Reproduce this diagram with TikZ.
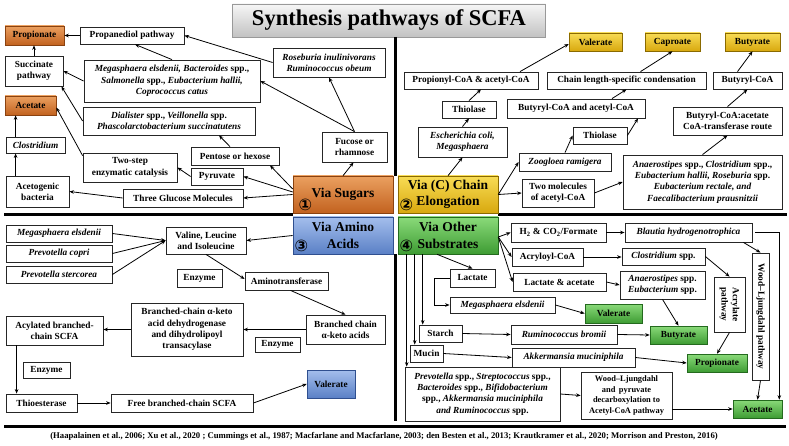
\documentclass[tikz,border=0pt]{standalone}
\usepackage{fontspec}
\setmainfont{Liberation Serif}
\newfontfamily\symf{DejaVu Sans}
\usetikzlibrary{arrows.meta,calc}
\definecolor{oTop}{HTML}{EBA060}
\definecolor{oBot}{HTML}{C2621F}
\definecolor{oLine}{HTML}{8A4210}
\definecolor{yTop}{HTML}{F8DC55}
\definecolor{yBot}{HTML}{D8A80E}
\definecolor{yLine}{HTML}{8A6A00}
\definecolor{bTop}{HTML}{A4BEEC}
\definecolor{bBot}{HTML}{5A80C6}
\definecolor{bLine}{HTML}{2F4F8F}
\definecolor{gTop}{HTML}{8ADA7A}
\definecolor{gBot}{HTML}{3E9C33}
\definecolor{gLine}{HTML}{246A1E}
\definecolor{tTop}{HTML}{F6F6F6}
\definecolor{tBot}{HTML}{C2C2C2}
\newcommand\bxfont{\bfseries\fontsize{9.3}{11.3}\selectfont}
\newcommand\viafont{\bfseries\fontsize{13.5}{16.5}\selectfont}
\newcommand\mkbx[7]{\node[#2, minimum width={(#5-#3)*1pt}, minimum height={(#6-#4)*1pt}] (#1) at ({(#3+#5)/2},{(#4+#6)/2}) {#7};}
\tikzset{
  bx/.style={draw=black!85, line width=0.8pt, fill=white, inner sep=1pt, align=center, font=\bxfont},
  outbase/.style={line width=0.6pt, inner sep=1pt, align=center, font=\bxfont},
  outO/.style={outbase, draw=oLine, top color=oTop, bottom color=oBot},
  outY/.style={outbase, draw=yLine, top color=yTop, bottom color=yBot},
  outB/.style={outbase, draw=bLine, top color=bTop, bottom color=bBot},
  outG/.style={outbase, draw=gLine, top color=gTop, bottom color=gBot},
  via/.style={line width=0.6pt, inner sep=1pt, align=center, font=\viafont, minimum width=100pt, minimum height=37pt},
  num/.style={inner sep=0pt, font=\symf\bfseries\fontsize{16}{16}\selectfont},
  arr/.style={-{Stealth[length=4.5pt,width=3.6pt]}, line width=0.8pt, black},
  divider/.style={line width=3.5pt, black},
}
\begin{document}
\begin{tikzpicture}[x=1pt,y=-1pt]
\useasboundingbox (0,0) rectangle (789,446);
\fill[white] (0,0) rectangle (789,446);
% title
\node[draw=black!40, line width=0.6pt, top color=tTop, bottom color=tBot, minimum width=313pt, minimum height=33pt, font=\bfseries\fontsize{22.5}{24}\selectfont] (title) at (389,20.5) {Synthesis pathways of SCFA};
% dividers
\draw[divider] (395.5,37) -- (395.5,176);
\draw[divider] (395.5,254) -- (395.5,421);
\draw[divider] (4,214.5) -- (293,214.5);
\draw[divider] (498,214.5) -- (787,214.5);
\draw[line width=2.5pt] (4,426.5) -- (786,426.5);
% central boxes
\node[via, draw=oLine, top color=oTop, bottom color=oBot] (sug) at (343,194.5) {Via Sugars};
\node[via, draw=yLine, top color=yTop, bottom color=yBot] (chain) at (448,194.5) {Via (C) Chain\\Elongation};
\node[via, draw=bLine, top color=bTop, bottom color=bBot] (amac) at (343,235.5) {Via Amino\\Acids};
\node[via, draw=gLine, top color=gTop, bottom color=gBot] (other) at (448,235.5) {Via Other\\Substrates};
\node[num] (n1) at (305.5,205) {①};
\node[num] (n2) at (406.5,204.5) {②};
\node[num] (n3) at (301.5,246) {③};
\node[num] (n4) at (406.5,246) {④};
% ---------- top-left: sugars
\mkbx{prop1}{outO}{5}{26}{64}{45}{Propionate}
\mkbx{pdiol}{bx}{80}{27}{184}{44}{Propanediol pathway}
\mkbx{succ}{bx}{5}{56}{63}{86}{Succinate\\pathway}
\mkbx{mega1}{bx}{84}{60}{260}{102}{\textit{Megasphaera elsdenii, Bacteroides} spp.,\\\textit{Salmonella} spp., \textit{Eubacterium hallii,}\\\textit{Coprococcus catus}}
\mkbx{rose}{bx}{273}{48}{385}{77}{\textit{Roseburia inulinivorans}\\\textit{Ruminococcus obeum}}
\mkbx{acet1}{outO}{5}{96}{56}{115}{Acetate}
\mkbx{dial}{bx}{83}{107}{255}{135}{\textit{Dialister} spp., \textit{Veillonella} spp.\\\textit{Phascolarctobacterium succinatutens}}
\mkbx{clos1}{bx}{6}{137}{65}{153}{\textit{Clostridium}}
\mkbx{fuc}{bx}{322}{132}{387}{162}{Fucose or\\rhamnose}
\mkbx{pent}{bx}{191}{147}{279}{165}{Pentose or hexose}
\mkbx{twostep}{bx}{83}{153}{177}{182}{Two-step\\enzymatic catalysis}
\mkbx{pyr}{bx}{191}{168}{243}{185}{Pyruvate}
\mkbx{acetog}{bx}{6}{176}{69}{207}{Acetogenic\\bacteria}
\mkbx{glu}{bx}{123}{189}{243}{207}{Three Glucose Molecules}
\draw[arr] (pdiol.west) -- (prop1.east);
\draw[arr] (succ.north) -- (succ.north |- prop1.south);
\draw[arr] (mega1.north) -- ([xshift=3pt]pdiol.south);
\draw[arr] (mega1.west) -- (succ.east);
\draw[arr] (rose.west) -- (pdiol.east);
\draw[arr] (fuc.north) -- (rose.south);
\draw[arr] (fuc.north) -- (mega1.east);
\draw[arr] (dial.west) -- ([xshift=-2pt]succ.south east);
\draw[arr] ([xshift=-5pt]pent.north) -- ([xshift=50pt]dial.south);
\draw[arr] ([yshift=-3pt]twostep.north west) -- ([yshift=-2pt]acet1.east);
\draw[arr] ([xshift=10pt]clos1.north west) -- ([xshift=10pt]clos1.north west |- acet1.south);
\draw[arr] ([xshift=10pt]acetog.north west) -- ([xshift=10pt]acetog.north west |- clos1.south);
\draw[arr] (pyr.west) -- (twostep.east);
\draw[arr] (glu.west) -- (acetog.east);
\draw[arr] (sug.west) -- (glu.east);
\draw[arr] ([yshift=2.5pt]sug.west) -- (pyr.east);
\draw[arr] ([yshift=5.5pt]sug.west) -- ([xshift=35pt]pent.south);
\draw[arr] (sug.north) -- ([xshift=-1pt]fuc.south);
% ---------- top-right: chain elongation
\mkbx{val2}{outY}{569}{33}{622}{51}{Valerate}
\mkbx{cap}{outY}{645}{33}{700}{51}{Caproate}
\mkbx{but2}{outY}{725}{33}{780}{51}{Butyrate}
\mkbx{propco}{bx}{404}{72}{538}{89}{Propionyl-CoA \& acetyl-CoA}
\mkbx{chainlen}{bx}{547}{72}{706}{89}{Chain length-specific condensation}
\mkbx{butco}{bx}{713}{72}{782}{89}{Butyryl-CoA}
\mkbx{thio1}{bx}{442}{101}{496}{118}{Thiolase}
\mkbx{butac}{bx}{507}{99}{645}{118}{Butyryl-CoA and acetyl-CoA}
\mkbx{ctrans}{bx}{673}{107}{782}{135}{Butyryl-CoA:acetate\\CoA-transferase route}
\mkbx{ecoli}{bx}{418}{127}{507}{157}{\textit{Escherichia coli,}\\\textit{Megasphaera}}
\mkbx{thio2}{bx}{573}{127}{627}{144}{Thiolase}
\mkbx{zoo}{bx}{519}{153}{611}{171}{\textit{Zoogloea ramigera}}
\mkbx{anae1}{bx}{623}{155}{782}{209}{\textit{Anaerostipes} spp., \textit{Clostridium} spp.,\\\textit{Eubacterium hallii, Roseburia} spp.\\\textit{Eubacterium rectale, and}\\\textit{Faecalibacterium prausnitzii}}
\mkbx{twomol}{bx}{522}{179}{594}{207}{Two molecules\\of acetyl-CoA}
\draw[arr] (chain.north) -- (ecoli.south);
\draw[arr] (ecoli.north) -- (thio1.south);
\draw[arr] (thio1.north) -- ([xshift=10pt]propco.south);
\draw[arr] ([xshift=49pt]propco.north) -- ([yshift=-2pt]val2.west);
\draw[arr] (chain.east) -- (zoo.west);
\draw[arr] (chain.east) -- (twomol.west);
\draw[arr] (zoo.north) -- (thio2.west);
\draw[arr] (thio2.east) -- ([xshift=62pt]butac.south);
\draw[arr] ([xshift=36pt]butac.north) -- (chainlen.south);
\draw[arr] ([xshift=14pt]chainlen.north) -- (cap.south);
\draw[arr] (twomol.east) -- (anae1.west);
\draw[arr] (anae1.north) -- (ctrans.south);
\draw[arr] (ctrans.north) -- (butco.south);
\draw[arr] ([xshift=-10pt]butco.north) -- (but2.south);
% ---------- bottom-left: amino acids
\mkbx{mega2}{bx}{6}{225}{112}{242}{\textit{Megasphaera elsdenii}}
\mkbx{pcop}{bx}{6}{245}{112}{262}{\textit{Prevotella copri}}
\mkbx{pster}{bx}{6}{266}{112}{283}{\textit{Prevotella stercorea}}
\mkbx{vli}{bx}{166}{227}{246}{254}{Valine, Leucine\\and Isoleucine}
\mkbx{enz1}{bx}{177}{269}{222}{287}{Enzyme}
\mkbx{amt}{bx}{245}{272}{328}{290}{Aminotransferase}
\mkbx{bcdh}{bx}{131}{303}{243}{356}{Branched-chain α-keto\\acid dehydrogenase\\and dihydrolipoyl\\transacylase}
\mkbx{bcka}{bx}{306}{315}{385}{344}{Branched chain\\α-keto acids}
\mkbx{acyl}{bx}{6}{316}{103}{345}{Acylated branched-\\chain SCFA}
\mkbx{enz2}{bx}{255}{337}{300}{352}{Enzyme}
\mkbx{enz3}{bx}{23}{362}{70}{378}{Enzyme}
\mkbx{thioe}{bx}{6}{394}{77}{412}{Thioesterase}
\mkbx{free}{bx}{111}{394}{253}{412}{Free branched-chain SCFA}
\mkbx{val3}{outB}{307}{370}{355}{398}{Valerate}
\draw[arr] (mega2.east) -- (vli.west);
\draw[arr] (pcop.east) -- (vli.west);
\draw[arr] (pster.east) -- (vli.west);
\draw[arr] (amac.west) -- (vli.east);
\draw[arr] (vli.south) -- ([yshift=2pt]amt.west);
\draw[arr] ([xshift=4pt]amt.south) -- (bcka.north);
\draw[arr] (bcka.west) -- (bcdh.east);
\draw[arr] (bcdh.west) -- (bcdh.west -| acyl.east);
\draw[arr] ([xshift=11pt]acyl.south west) -- ([xshift=11pt]acyl.south west |- thioe.north);
\draw[arr] (thioe.east) -- (free.west);
\draw[arr] (free.east) -- (val3.west);
% ---------- bottom-right: other substrates
\mkbx{h2}{bx}{511}{223}{606}{242}{H\textsubscript{2} \& CO\textsubscript{2}/Formate}
\mkbx{blau}{bx}{625}{223}{752}{242}{\textit{Blautia hydrogenotrophica}}
\mkbx{acryl}{bx}{512}{248}{583}{266}{Acryloyl-CoA}
\mkbx{clos2}{bx}{622}{248}{705}{265}{\textit{Clostridium} spp.}
\mkbx{lac}{bx}{450}{269}{495}{287}{Lactate}
\mkbx{lacac}{bx}{513}{273}{606}{291}{Lactate \& acetate}
\mkbx{anae2}{bx}{620}{271}{705}{299}{\textit{Anaerostipes} spp.\\\textit{Eubacterium} spp.}
\node[bx, rotate=-90, minimum width=55pt, minimum height=31pt] (acr) at (729.5,304.5) {Acrylate\\pathway};
\node[bx, rotate=-90, minimum width=127pt, minimum height=17pt] (wl) at (760.5,316.5) {Wood–Ljungdahl pathway};
\mkbx{mega3}{bx}{450}{297}{555}{313}{\textit{Megasphaera elsdenii}}
\mkbx{val4}{outG}{585}{304}{642}{323}{Valerate}
\mkbx{but4}{outG}{650}{326}{707}{344}{Butyrate}
\mkbx{starch}{bx}{419}{325}{462}{342}{Starch}
\mkbx{rbrom}{bx}{511}{325}{617}{344}{\textit{Ruminococcus bromii}}
\mkbx{mucin}{bx}{410}{345}{443}{362}{Mucin}
\mkbx{akk}{bx}{512}{348}{635}{367}{\textit{Akkermansia muciniphila}}
\mkbx{prop4}{outG}{687}{354}{747}{372}{Propionate}
\mkbx{prev}{bx}{405}{367}{560}{421}{\textit{Prevotella} spp., \textit{Streptococcus} spp.,\\\textit{Bacteroides} spp., \textit{Bifidobacterium}\\spp., \textit{Akkermansia muciniphila}\\\textit{and Ruminococcus} spp.}
\mkbx{wlpyr}{bx, font=\bfseries\fontsize{8.4}{10.4}\selectfont}{581}{372}{672}{419}{Wood–Ljungdahl\\and\, pyruvate\\decarboxylation to\\Acetyl-CoA pathway}
\mkbx{acet4}{outG}{733}{400}{782}{418}{Acetate}
\draw[arr] ([yshift=-1.5pt]other.east) -- (h2.west);
\draw[arr] ([yshift=-1.5pt]other.east) -- (acryl.west);
\draw[arr] ([yshift=-1.5pt]other.east) -- (lacac.west);
\draw[arr] ([xshift=-11pt]other.south) -- (lac.north);
\draw[arr] (lac.west) -- ++(-15,0) |- (mega3.west);
\draw[arr] ([xshift=25pt]other.south west) -- ([xshift=25pt]other.south west |- starch.north);
\draw[arr] ([xshift=17pt]other.south west) -- ([xshift=17pt]other.south west |- mucin.north);
\draw[arr] ([xshift=9pt]other.south west) -- ([xshift=9pt]other.south west |- prev.north);
\draw[arr] (h2.east) -- (blau.west);
\draw[arr] (acryl.east) -- (acryl.east -| clos2.west);
\draw[arr] (lacac.east) -- (anae2.west);
\draw[arr] (mega3.east) -- (val4.west);
\draw[arr] (starch.east) -- (rbrom.west);
\draw[arr] (rbrom.east) -- (but4.west);
\draw[arr] (anae2.south) -- (but4.north);
\draw[arr] (mucin.east) -- (akk.west);
\draw[arr] (akk.east) -- (prop4.west);
\draw[arr] (clos2.east) -- (acr.west);
\draw[arr] (acr.east) -- (prop4.north);
\draw[arr] ([xshift=-9pt]blau.south east) -- (wl.west);
\draw[arr] ([xshift=3pt]blau.east) -| ([xshift=-3pt]acet4.north east);
\draw[arr] (wl.east) -- (acet4.north);
\draw[arr] (prev.east) -- (wlpyr.west);
\draw[arr] (wlpyr.east |- acet4.west) -- (acet4.west);
% citation
\node[font=\bfseries\fontsize{8.7}{10}\selectfont] (cite) at (384,436.5) {(Haapalainen et al., 2006; Xu et al., 2020 ; Cummings et al., 1987; Macfarlane and Macfarlane, 2003; den Besten et al., 2013; Krautkramer et al., 2020; Morrison and Preston, 2016)};
\end{tikzpicture}
\end{document}
